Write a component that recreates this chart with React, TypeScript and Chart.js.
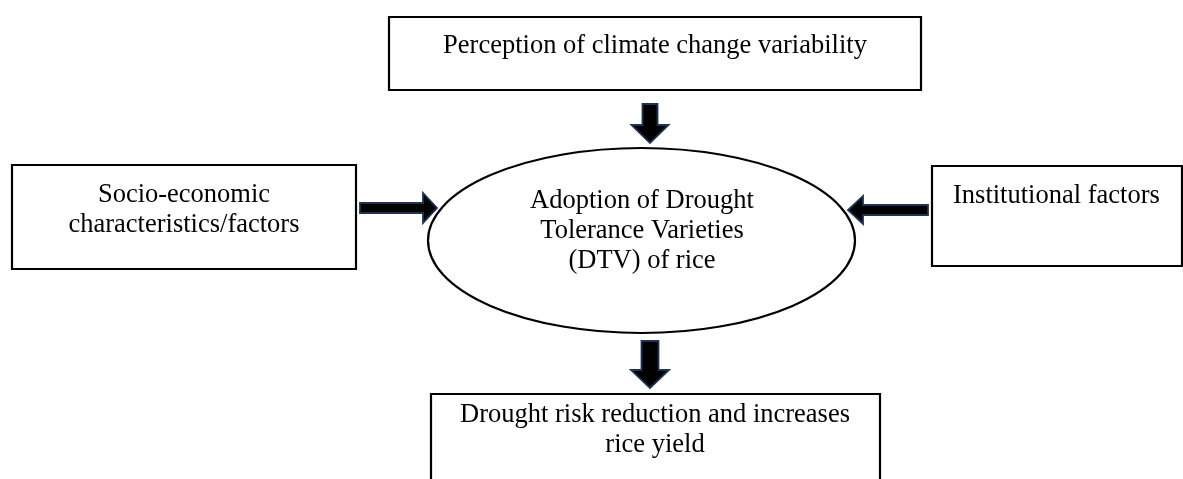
import React, { useEffect, useRef } from "react";
import { Chart, registerables } from "chart.js";

Chart.register(...registerables);

// ---- diagram content ----
const nodeNames = ["perception", "socio", "adoption", "institutional", "outcome"];
const nodeLines: string[][] = [
  ["Perception of climate change variability"],
  ["Socio-economic", "characteristics/factors"],
  ["Adoption of Drought", "Tolerance Varieties", "(DTV) of rice"],
  ["Institutional factors"],
  ["Drought risk reduction and increases", "rice yield"],
];
// edges: from node index -> to node index
const edgeFrom = [0, 1, 3, 2];
const edgeTo = [2, 2, 2, 4];

// ---- layout (data units = page pixels) ----
const nodeShape = ["rect", "rect", "ellipse", "rect", "rect"];
const nodeLeft = [389, 12, 428, 932, 431];
const nodeTop = [17, 165, 148, 166, 394];
const nodeRight = [921, 356, 855, 1182, 880];
const nodeBottom = [90, 269, 333, 266, 530];
const textAlign = ["center", "center", "center", "left", "center"];
const textX = [655, 184, 642, 953, 655];
const textBaseline0 = [53, 202, 208, 203, 422];
const lineGap = 30;
// arrows: tail point -> tip point
const arrowTailX = [650, 360, 928, 650];
const arrowTailY = [104, 208, 210, 341];
const arrowTipX = [650, 437, 848, 650];
const arrowTipY = [143, 208, 210, 388];
const arrowShaft = [15, 10, 10, 17];
const arrowHead = [37, 30, 28, 38];
const arrowHeadLen = [18, 14, 15, 18];

const FONT = '26.5px "Liberation Serif", "Times New Roman", serif';

const diagramPlugin = {
  id: "diagram",
  afterDraw(chart: any) {
    const ctx: CanvasRenderingContext2D = chart.ctx;
    const xs = chart.scales.x;
    const ys = chart.scales.y;
    const px = (v: number) => xs.getPixelForValue(v);
    const py = (v: number) => ys.getPixelForValue(v);
    ctx.save();
    // nodes
    nodeNames.forEach((_, i) => {
      const x0 = px(nodeLeft[i]);
      const x1 = px(nodeRight[i]);
      const y0 = py(nodeTop[i]);
      const y1 = py(nodeBottom[i]);
      ctx.strokeStyle = "#000";
      ctx.lineWidth = 2.2;
      ctx.beginPath();
      if (nodeShape[i] === "ellipse") {
        ctx.ellipse((x0 + x1) / 2, (y0 + y1) / 2, (x1 - x0) / 2, (y1 - y0) / 2, 0, 0, Math.PI * 2);
      } else {
        ctx.rect(x0, y0, x1 - x0, y1 - y0);
      }
      ctx.stroke();
      ctx.fillStyle = "#000";
      ctx.font = FONT;
      ctx.textAlign = textAlign[i] as CanvasTextAlign;
      ctx.textBaseline = "alphabetic";
      nodeLines[i].forEach((line, k) => {
        ctx.fillText(line, px(textX[i]), py(textBaseline0[i] + k * lineGap));
      });
    });
    // arrows
    edgeFrom.forEach((_, i) => {
      const tx = px(arrowTailX[i]);
      const ty = py(arrowTailY[i]);
      const hx = px(arrowTipX[i]);
      const hy = py(arrowTipY[i]);
      const len = Math.hypot(hx - tx, hy - ty);
      const ang = Math.atan2(hy - ty, hx - tx);
      const s = arrowShaft[i] / 2;
      const h = arrowHead[i] / 2;
      const hl = arrowHeadLen[i];
      ctx.save();
      ctx.translate(tx, ty);
      ctx.rotate(ang);
      ctx.beginPath();
      ctx.moveTo(0, -s);
      ctx.lineTo(len - hl, -s);
      ctx.lineTo(len - hl, -h);
      ctx.lineTo(len, 0);
      ctx.lineTo(len - hl, h);
      ctx.lineTo(len - hl, s);
      ctx.lineTo(0, s);
      ctx.closePath();
      ctx.fillStyle = "#000000";
      ctx.fill();
      ctx.strokeStyle = "#1f3452";
      ctx.lineWidth = 1.8;
      ctx.lineJoin = "miter";
      ctx.stroke();
      ctx.restore();
    });
    ctx.restore();
  },
};

export default function App() {
  const ref = useRef<HTMLCanvasElement | null>(null);
  useEffect(() => {
    document.body.style.margin = "0";
    document.body.style.background = "#fff";
    const canvas = ref.current!;
    const chart = new Chart(canvas, {
      type: "scatter",
      data: {
        datasets: [
          {
            label: "nodes",
            data: nodeNames.map((_, i) => ({
              x: (nodeLeft[i] + nodeRight[i]) / 2,
              y: (nodeTop[i] + nodeBottom[i]) / 2,
            })),
            pointRadius: 0,
            pointHoverRadius: 0,
          },
        ],
      },
      options: {
        animation: false,
        responsive: false,
        maintainAspectRatio: false,
        layout: { padding: 0 },
        events: [],
        scales: {
          x: { type: "linear", min: 0, max: 1183, display: false },
          y: { type: "linear", min: 0, max: 479, reverse: true, display: false },
        },
        plugins: {
          legend: { display: false },
          tooltip: { enabled: false },
          title: { display: false },
        },
      },
      plugins: [diagramPlugin],
    });
    return () => chart.destroy();
  }, []);
  return (
    <div style={{ width: 1183, height: 479, background: "#fff" }}>
      <canvas ref={ref} width={1183} height={479} style={{ display: "block" }} />
    </div>
  );
}
